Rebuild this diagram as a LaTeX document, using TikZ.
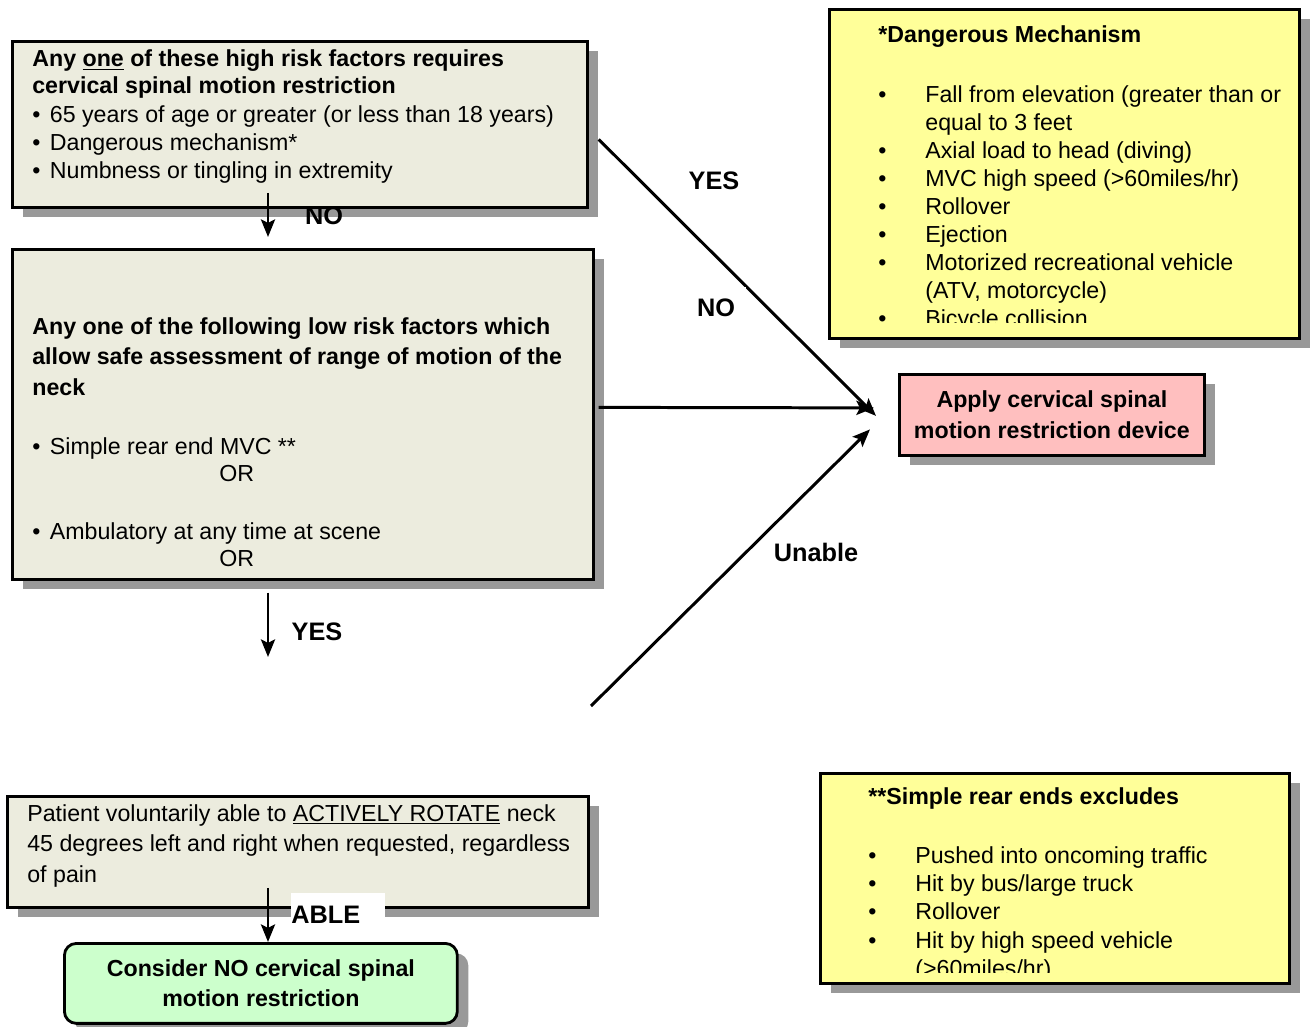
\documentclass[tikz,border=0pt]{standalone}
\usepackage{fontspec}
\setmainfont{Liberation Sans}
\usepackage{xcolor}
\usepackage{tikz}
\usetikzlibrary{arrows.meta,positioning,calc,shadows}

\definecolor{beige}{RGB}{236,236,222}
\definecolor{note}{RGB}{255,255,153}
\definecolor{alert}{RGB}{255,191,191}
\definecolor{okgreen}{RGB}{204,255,204}
\newcommand{\bodyfont}[1]{\fontsize{13.2}{#1}\selectfont}
\newcommand{\blt}{•\hspace{1.7pt} }

\begin{document}
\begin{tikzpicture}[x=0.02cm,y=-0.02cm,
  box/.style={draw,line width=1.6pt,anchor=north west,inner sep=0pt,drop shadow={shadow xshift=0.22cm,shadow yshift=-0.2cm,fill=black!40,opacity=1}},
  body/.style={anchor=base west,inner sep=0pt},
  lab/.style={font=\fontsize{14.4}{17}\selectfont\bfseries,inner sep=0pt},
  arr/.style={-{Stealth[length=10pt,width=8pt,inset=2pt]},line width=1.7pt}]
\useasboundingbox[fill=white] (0,0) rectangle (1311,1027);

% decision boxes
\node[box,fill=beige,minimum width=11.5cm,minimum height=3.32cm] (hi) at (11,40) {};
\node[box,fill=beige,minimum width=11.62cm,minimum height=6.6cm] (lo) at (11,248) {};
\node[box,fill=beige,minimum width=11.62cm,minimum height=2.22cm] (rot) at (6,795) {};
\node[box,fill=okgreen,rounded corners=0.24cm,minimum width=7.86cm,minimum height=1.6cm,align=center,font=\bodyfont{17}\bfseries] (go) at (63,942) {Consider NO cervical spinal\\motion restriction};
\node[box,fill=alert,minimum width=6.1cm,minimum height=1.62cm,align=center,font=\bodyfont{17.6}\bfseries] (apply) at (898,373) {Apply cervical spinal\\motion restriction device};
% notes
\node[box,fill=note,minimum width=9.4cm,minimum height=6.58cm] (mech) at (828,8) {};
\node[box,fill=note,minimum width=9.38cm,minimum height=4.2cm] (excl) at (819,772) {};

\node[body,font=\bodyfont{15.9}] (hitxt) at ($(hi.north west)+(21,27)$) {\begin{tabular}[t]{@{}l@{}}
\textbf{Any \underline{one} of these high risk factors requires}\\[-1.1pt]
\textbf{cervical spinal motion restriction}\\[1.1pt]
\blt 65 years of age or greater (or less than 18 years)\\
\blt Dangerous mechanism*\\
\blt Numbness or tingling in extremity
\end{tabular}};
\node[body,font=\bodyfont{15.4}] (lotxt) at ($(lo.north west)+(21,86)$) {\begin{tabular}[t]{@{}l@{}}
\textbf{Any one of the following low risk factors which}\\[2.2pt]
\textbf{allow safe assessment of range of motion of the}\\[2.2pt]
\textbf{neck}\\[18.2pt]
\blt Simple rear end MVC **\\
\hspace{3.74cm}OR\\[17.6pt]
\blt Ambulatory at any time at scene\\
\hspace{3.74cm}OR
\end{tabular}};
\node[body,font=\bodyfont{17.6}] (rottxt) at ($(rot.north west)+(21,26)$) {\begin{tabular}[t]{@{}l@{}}
Patient voluntarily able to \underline{ACTIVELY ROTATE} neck\\
45 degrees left and right when requested, regardless\\
of pain
\end{tabular}};

\begin{scope}
\clip (mech.north west) rectangle ($(mech.south east)+(0,-17)$);
\node[body,font=\bodyfont{15.9}] (mechtxt) at ($(mech.north west)+(50,35)$) {\begin{tabular}[t]{@{}p{0.94cm}@{}l@{}}
\multicolumn{2}{@{}l@{}}{\textbf{*Dangerous Mechanism}}\\[18.2pt]
• & Fall from elevation (greater than or\\
  & equal to 3 feet\\
• & Axial load to head (diving)\\
• & MVC high speed (>60miles/hr)\\
• & Rollover\\
• & Ejection\\
• & Motorized recreational vehicle\\
  & (ATV, motorcycle)\\
• & Bicycle collision
\end{tabular}};
\end{scope}
\begin{scope}
\clip (excl.north west) rectangle ($(excl.south east)+(0,-12)$);
\node[body,font=\bodyfont{16.2}] (excltxt) at ($(excl.north west)+(49,32)$) {\begin{tabular}[t]{@{}p{0.94cm}@{}l@{}}
\multicolumn{2}{@{}l@{}}{\textbf{**Simple rear ends excludes}}\\[17.4pt]
• & Pushed into oncoming traffic\\
• & Hit by bus/large truck\\
• & Rollover\\
• & Hit by high speed vehicle\\
  & (>60miles/hr)
\end{tabular}};
\end{scope}

% connectors
\coordinate (spine) at (268,0);
\coordinate (yesend) at (268,657);
\coordinate (unab0) at (591,706);
\draw[arr,shorten <=-0.32cm,shorten >=0.22cm] (hi.south -| spine) -- (lo.north -| spine);
\draw[arr,shorten <=0.24cm] (lo.south -| spine) -- (yesend);
\draw[arr,shorten <=-0.42cm] (rot.south -| spine) -- (go.north -| spine);
\draw[arr] ($(hi.east)+(10,15)$) -- ($(apply.west)+(-22,1)$);
\draw[arr] ($(lo.east)+(4,-7)$) -- ($(apply.west)+(-24,-7)$);
\draw[arr] (unab0) -- ($(apply.west)+(-28,14.5)$);

\node[lab] (no1) at (324,216) {NO};
\node[lab] (yes1) at (714,181) {YES};
\node[lab,fill=white,inner xsep=6pt,inner ysep=7pt] (no2) at (716,308) {NO};
\node[lab] (yes2) at (317,632) {YES};
\node[lab] (unable) at (816,552) {Unable};
\node[lab,fill=white,anchor=north west,text width=1.88cm,minimum height=0.84cm] (able) at (291,893) {ABLE};
\end{tikzpicture}
\end{document}
